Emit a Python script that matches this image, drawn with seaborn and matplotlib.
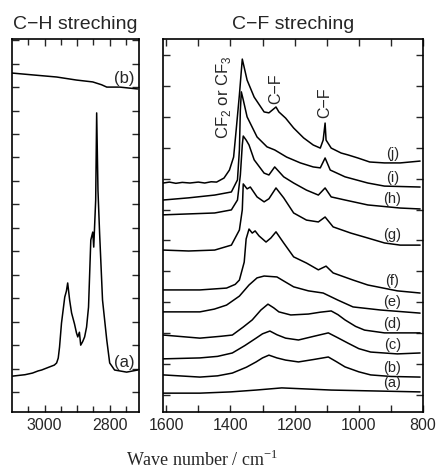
import numpy as np
import pandas as pd
import matplotlib
matplotlib.use("Agg")
import matplotlib.pyplot as plt
from matplotlib.ticker import FixedLocator, FixedFormatter, MultipleLocator
import seaborn as sns

# ---------------- C-H stretching region (left panel) ----------------
ch_a_wn = [3098, 3060, 3037, 3020, 3009, 2985, 2970, 2963, 2958, 2954, 2948, 2938, 2933,
           2929, 2923, 2917, 2908, 2902, 2898, 2893, 2889, 2883, 2877, 2871, 2865, 2858,
           2852, 2849, 2843, 2840, 2836, 2831, 2822, 2809, 2800, 2785, 2748, 2714]
ch_a_abs = [0.68, 0.74, 0.81, 0.90, 0.94, 1.07, 1.15, 1.24, 1.45, 1.92, 2.94, 4.05, 4.30,
            4.65, 3.92, 3.37, 2.90, 2.52, 2.35, 2.55, 2.00, 2.15, 2.35, 2.77, 3.62, 6.48,
            6.82, 6.18, 8.19, 11.90, 8.60, 6.78, 3.92, 2.22, 1.24, 0.94, 0.85, 0.94]
ch_b_wn = [3101, 3037, 2963, 2902, 2852, 2825, 2809, 2769, 2714]
ch_b_abs = [13.60, 13.52, 13.43, 13.30, 13.22, 13.10, 13.00, 13.00, 12.92]
ch_labels = ["(a)", "(b)"]

# ---------------- C-F stretching region (right panel) ----------------
cf_a_wn = [1609, 1495, 1400, 1320, 1240, 1086, 809]
cf_a_abs = [0.06, 0.06, 0.10, 0.16, 0.23, 0.16, 0.10]

cf_b_wn = [1609, 1495, 1440, 1394, 1350, 1320, 1300, 1280, 1255, 1228, 1188, 1140, 1095,
           1070, 1043, 1000, 963, 900, 809]
cf_b_abs = [0.65, 0.58, 0.62, 0.71, 0.90, 1.07, 1.20, 1.29, 1.20, 1.13, 1.07, 1.15, 1.23,
            1.08, 0.91, 0.75, 0.65, 0.60, 0.58]

cf_c_wn = [1609, 1495, 1440, 1394, 1355, 1320, 1300, 1277, 1255, 1228, 1188, 1140, 1095,
           1065, 1034, 1000, 963, 880, 809]
cf_c_abs = [1.17, 1.20, 1.25, 1.36, 1.60, 1.84, 1.98, 2.07, 1.95, 1.84, 1.78, 1.90, 2.01,
            1.85, 1.68, 1.50, 1.39, 1.33, 1.36]

cf_d_wn = [1609, 1495, 1430, 1394, 1360, 1332, 1305, 1283, 1265, 1249, 1212, 1157, 1120,
           1086, 1065, 1043, 1010, 982, 920, 809]
cf_d_abs = [1.94, 1.84, 1.90, 1.94, 2.20, 2.43, 2.75, 2.94, 2.82, 2.69, 2.59, 2.62, 2.68,
            2.72, 2.60, 2.43, 2.22, 2.10, 2.01, 2.01]

cf_e_wn = [1609, 1495, 1450, 1412, 1372, 1342, 1317, 1295, 1255, 1234, 1203, 1157, 1111,
           1065, 1018, 932, 809]
cf_e_abs = [2.69, 2.69, 2.78, 2.91, 3.20, 3.56, 3.79, 3.85, 3.82, 3.69, 3.50, 3.37, 3.30,
            3.07, 2.85, 2.75, 2.65]

cf_f_wn = [1609, 1495, 1412, 1385, 1372, 1357, 1351, 1342, 1332, 1323, 1311, 1289, 1274,
           1258, 1234, 1203, 1163, 1126, 1102, 1080, 1018, 972, 880, 809]
cf_f_abs = [3.40, 3.40, 3.46, 3.58, 3.72, 4.30, 5.05, 5.37, 5.24, 5.31, 5.15, 4.95, 5.08,
            5.28, 4.92, 4.47, 4.27, 4.05, 4.17, 3.95, 3.72, 3.56, 3.37, 3.30]

cf_g_wn = [1609, 1530, 1449, 1397, 1372, 1363, 1360, 1348, 1338, 1317, 1295, 1280, 1258,
           1234, 1203, 1163, 1126, 1105, 1080, 1025, 972, 920, 871, 809]
cf_g_abs = [4.69, 4.66, 4.69, 4.85, 5.34, 5.99, 6.83, 6.67, 6.73, 6.41, 6.25, 6.35, 6.70,
            6.38, 5.89, 5.66, 5.60, 5.76, 5.44, 5.24, 5.08, 4.92, 4.85, 4.85]

cf_h_wn = [1609, 1530, 1449, 1397, 1378, 1369, 1363, 1360, 1351, 1342, 1326, 1295, 1280,
           1262, 1234, 1203, 1163, 1126, 1105, 1086, 1043, 972, 871, 809]
cf_h_abs = [5.83, 5.86, 5.89, 5.99, 6.31, 7.12, 8.09, 8.38, 8.25, 8.09, 7.61, 7.18, 7.12,
            7.38, 7.06, 6.86, 6.63, 6.47, 6.70, 6.41, 6.31, 6.15, 6.05, 6.02]

cf_i_wn = [1609, 1530, 1449, 1397, 1378, 1372, 1369, 1366, 1360, 1348, 1317, 1286, 1262,
           1225, 1182, 1142, 1120, 1105, 1089, 1043, 972, 920, 809]
cf_i_abs = [6.31, 6.38, 6.47, 6.57, 6.96, 7.93, 9.22, 9.81, 9.55, 9.00, 8.35, 8.03, 7.93,
            7.70, 7.51, 7.38, 7.35, 7.67, 7.28, 7.06, 6.86, 6.76, 6.73]

cf_j_wn = [1609, 1590, 1570, 1550, 1526, 1500, 1480, 1460, 1443, 1420, 1403, 1390, 1382,
           1372, 1363, 1348, 1326, 1295, 1280, 1258, 1249, 1228, 1203, 1172, 1142, 1120,
           1111, 1105, 1102, 1086, 1055, 1034, 1003, 966, 920, 871, 809]
cf_j_abs = [6.86, 6.89, 6.85, 6.88, 6.86, 6.89, 6.86, 6.90, 6.89, 7.02, 7.28, 7.70, 8.58,
            9.71, 10.87, 10.19, 9.64, 9.16, 9.13, 9.32, 9.16, 8.96, 8.64, 8.32, 8.09, 7.99,
            8.25, 8.80, 8.25, 7.99, 7.83, 7.77, 7.67, 7.54, 7.51, 7.51, 7.57]

cf_labels = ["(a)", "(b)", "(c)", "(d)", "(e)", "(f)", "(g)", "(h)", "(i)", "(j)"]
ch_ticklabels = ["3000", "", "2800"]
cf_ticklabels = ["1600", "", "1400", "", "1200", "", "1000", "", "800"]

# ---------------- build tidy tables ----------------
df_ch = pd.concat([
    pd.DataFrame({"wn": w, "abs": v, "sample": n})
    for n, w, v in zip(ch_labels, [ch_a_wn, ch_b_wn], [ch_a_abs, ch_b_abs])
], ignore_index=True)

cf_wns = [cf_a_wn, cf_b_wn, cf_c_wn, cf_d_wn, cf_e_wn, cf_f_wn, cf_g_wn, cf_h_wn, cf_i_wn, cf_j_wn]
cf_abss = [cf_a_abs, cf_b_abs, cf_c_abs, cf_d_abs, cf_e_abs, cf_f_abs, cf_g_abs, cf_h_abs,
           cf_i_abs, cf_j_abs]
df_cf = pd.concat([
    pd.DataFrame({"wn": w, "abs": v, "sample": n})
    for n, w, v in zip(cf_labels, cf_wns, cf_abss)
], ignore_index=True)

# ---------------- style ----------------
sns.set_style("ticks")
plt.rcParams["font.family"] = ["Liberation Sans", "DejaVu Sans"]
plt.rcParams["axes.linewidth"] = 1.2

fig = plt.figure(figsize=(4.41, 4.69), dpi=100)
ax1 = fig.add_axes([12 / 441, 57 / 469, 127 / 441, 373 / 469])
ax2 = fig.add_axes([163 / 441, 57 / 469, 260 / 441, 373 / 469])

for ax, df in ((ax1, df_ch), (ax2, df_cf)):
    sns.lineplot(data=df, x="wn", y="abs", units="sample", estimator=None, sort=False,
                 color="black", linewidth=1.1, ax=ax, legend=False)
    ax.set_xlabel("")
    ax.set_ylabel("")
    ax.tick_params(which="both", direction="in", top=True, right=True,
                   labelleft=False, labelsize=11.5, width=1.0, pad=4)
    ax.tick_params(which="major", length=5)
    ax.tick_params(which="minor", length=4)
    for s in ax.spines.values():
        s.set_linewidth(1.2)
        s.set_color("black")

# left panel axes
ax1.set_xlim(3100, 2710)
ax1.set_ylim(-0.85, 15.05)
ax1.xaxis.set_major_locator(FixedLocator([3000, 2900, 2800]))
ax1.xaxis.set_major_formatter(FixedFormatter(ch_ticklabels))
ax1.xaxis.set_minor_locator(FixedLocator([3050, 2950, 2850, 2750]))
ax1.yaxis.set_major_locator(MultipleLocator(1))
ax1.set_title("C\u2212H streching", fontsize=14, pad=7)
for lab, w, v in zip(ch_labels, [ch_a_wn, ch_b_wn], [ch_a_abs, ch_b_abs]):
    yv = np.interp(2755, w[::-1], v[::-1])
    ax1.text(2755, yv + 0.38, lab, ha="center", va="center", fontsize=12)

# right panel axes
ax2.set_xlim(1610, 800)
ax2.set_ylim(-0.55, 11.52)
ax2.xaxis.set_major_locator(FixedLocator(list(range(1600, 799, -100))))
ax2.xaxis.set_major_formatter(FixedFormatter(cf_ticklabels))
ax2.yaxis.set_major_locator(MultipleLocator(1))
ax2.set_title("C\u2212F streching", fontsize=14, pad=7)
for lab, w, v in zip(cf_labels, cf_wns, cf_abss):
    yv = np.interp(895, w[::-1], v[::-1])
    ax2.text(895, yv + 0.28, lab, ha="center", va="center", fontsize=10.5)

ax2.text(1420, 9.62, r"CF$_{\mathregular{2}}$ or CF$_{\mathregular{3}}$", rotation=90,
         ha="center", va="center", fontsize=12)
ax2.text(1258, 9.90, "C\u2212F", rotation=90, ha="center", va="center", fontsize=11.5)
ax2.text(1106, 9.45, "C\u2212F", rotation=90, ha="center", va="center", fontsize=11.5)

fig.text(202 / 441, 1 - 460 / 469, r"Wave number / cm$^{\mathregular{-1}}$",
         ha="center", va="center", fontsize=13, family=["Liberation Serif", "DejaVu Serif"])

fig.savefig("out.png", dpi=100)
